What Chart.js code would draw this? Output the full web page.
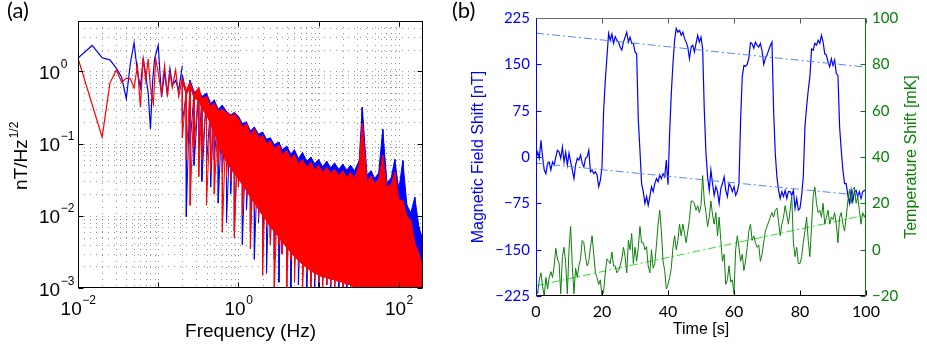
<!DOCTYPE html>
<html>
<head>
<meta charset="utf-8">
<script src="https://cdn.jsdelivr.net/npm/chart.js@4.4.1/dist/chart.umd.min.js"></script>
<style>
  html, body { margin: 0; padding: 0; background: #fff; }
  #wrap { position: relative; width: 927px; height: 348px; overflow: hidden; }
  canvas { position: absolute; top: 0; }
  #spectrum { left: 0; }
  #timeSeries { left: 440px; }
</style>
</head>
<body>
<div id="wrap">
  <canvas id="spectrum" width="440" height="348"></canvas>
  <canvas id="timeSeries" width="487" height="348"></canvas>
</div>
<script>
// ---------- panel (a): field noise spectra ----------
// sparse low-frequency part of each spectrum
const blueLowFreq = [0.01, 0.015, 0.02, 0.025, 0.03, 0.035, 0.04, 0.045, 0.05, 0.055, 0.06, 0.065, 0.07,
                     0.075, 0.08, 0.085, 0.09, 0.1, 0.11, 0.12, 0.13, 0.14, 0.15, 0.165, 0.18, 0.2];
const blueLowVal = [1.53, 2.29, 1.55, 1.45, 1.11, 0.83, 0.42, 1.3, 2.5, 1.0, 0.6, 1.5, 0.9,
                    0.5, 0.16, 0.7, 1.5, 2.3, 0.44, 0.98, 0.49, 1.1, 0.64, 0.75, 0.55, 1.2];
const redLowFreq = [0.01, 0.02, 0.025, 0.03, 0.035, 0.04, 0.045, 0.05, 0.055, 0.06, 0.065, 0.07, 0.075,
                    0.08, 0.087, 0.093, 0.1, 0.11, 0.12, 0.13, 0.14, 0.15, 0.165, 0.18, 0.2];
const redLowVal = [1.53, 0.123, 0.69, 1.05, 0.71, 0.81, 0.79, 0.59, 1.2, 0.32, 1.55, 0.75, 1.5,
                   0.6, 0.36, 1.5, 0.95, 0.5, 1.2, 0.45, 0.95, 0.6, 1.05, 0.45, 0.8];

// dense part: upper edge, lower edge of the solid band and the deepest dips
const hfFreq = [0.2, 0.224, 0.25, 0.28, 0.32, 0.35, 0.4, 0.45, 0.5, 0.56,
                0.63, 0.71, 0.8, 0.89, 1.0, 1.12, 1.26, 1.41, 1.58, 1.78,
                2.0, 2.24, 2.5, 2.8, 3.2, 3.5, 4.0, 4.5, 5.0, 5.6,
                6.3, 7.1, 8.0, 8.9, 10, 11.2, 12.6, 14.1, 15.8, 17.8,
                20, 22.4, 25, 28, 32, 35, 40, 45, 50, 56,
                63, 71, 80, 89, 100, 112, 126, 141, 158, 178,
                200];
const redTop = [0.80, 0.55, 0.70, 0.48, 0.60, 0.42, 0.45, 0.33, 0.36, 0.28,
                0.30, 0.27, 0.24, 0.26, 0.22, 0.17, 0.19, 0.13, 0.16, 0.12,
                0.13, 0.10, 0.11, 0.085, 0.095, 0.07, 0.08, 0.062, 0.07, 0.052,
                0.06, 0.047, 0.055, 0.043, 0.05, 0.04, 0.047, 0.038, 0.044, 0.036,
                0.042, 0.034, 0.04, 0.033, 0.05, 0.19, 0.03, 0.035, 0.028, 0.032,
                0.069, 0.025, 0.027, 0.04, 0.017, 0.016, 0.01, 0.0085, 0.0042, 0.003,
                0.0018];
const blueTop = [0.90, 0.50, 0.75, 0.52, 0.55, 0.45, 0.50, 0.36, 0.40, 0.30,
                 0.34, 0.28, 0.25, 0.27, 0.24, 0.19, 0.20, 0.15, 0.17, 0.135,
                 0.145, 0.115, 0.12, 0.097, 0.105, 0.082, 0.092, 0.072, 0.082, 0.062,
                 0.075, 0.057, 0.065, 0.053, 0.06, 0.048, 0.057, 0.046, 0.054, 0.044,
                 0.052, 0.043, 0.05, 0.042, 0.058, 0.32, 0.037, 0.042, 0.033, 0.039,
                 0.157, 0.029, 0.033, 0.06, 0.023, 0.058, 0.014, 0.011, 0.018, 0.007,
                 0.0045];
const bandFloor = [0.70, 0.46, 0.60, 0.42, 0.40, 0.30, 0.25, 0.18, 0.14, 0.10,
                   0.07, 0.055, 0.045, 0.038, 0.032, 0.027, 0.022, 0.018, 0.015, 0.012,
                   0.010, 0.0085, 0.007, 0.006, 0.005, 0.0043, 0.0036, 0.0031, 0.0027, 0.0024,
                   0.0021, 0.0019, 0.0017, 0.0016, 0.0015, 0.0014, 0.0014, 0.0013, 0.0013, 0.0012,
                   0.0012, 0.0011, 0.0011, 0.001, 0.001, 0.001, 0.001, 0.001, 0.001, 0.001,
                   0.001, 0.001, 0.001, 0.001, 0.001, 0.001, 0.001, 0.001, 0.001, 0.001,
                   0.001];
const redDip = [0.12, 0.06, 0.014, 0.09, 0.035, 0.06, 0.014, 0.04, 0.02, 0.05,
                0.006, 0.035, 0.03, 0.005, 0.025, 0.01, 0.018, 0.0035, 0.012, 0.009,
                0.0015, 0.007, 0.004, 0.0009, 0.004, 0.003, 0.0009, 0.0025, 0.0012, 0.002,
                0.0009, 0.0016, 0.0009, 0.0013, 0.0012, 0.0009, 0.0011, 0.0011, 0.0009, 0.0012,
                0.0009, 0.0012, 0.0009, 0.0009, 0.0009, 0.0009, 0.0009, 0.0009, 0.0009, 0.0009,
                0.0009, 0.0009, 0.0009, 0.0009, 0.0009, 0.0009, 0.0009, 0.0009, 0.0009, 0.0009,
                0.0009];
const blueDip = [0.2, 0.0097, 0.10, 0.05, 0.08, 0.03, 0.05, 0.025, 0.06, 0.015,
                 0.04, 0.008, 0.02, 0.0063, 0.03, 0.004, 0.012, 0.006, 0.0025, 0.008,
                 0.004, 0.0016, 0.005, 0.0025, 0.0012, 0.003, 0.0018, 0.0009, 0.002, 0.0011,
                 0.0014, 0.0009, 0.0012, 0.0009, 0.0009, 0.0013, 0.0011, 0.0009, 0.0009, 0.0009,
                 0.0009, 0.0009, 0.0009, 0.0009, 0.0009, 0.0009, 0.0009, 0.0009, 0.0009, 0.0009,
                 0.0009, 0.0009, 0.0009, 0.0009, 0.0009, 0.0009, 0.0009, 0.0009, 0.0009, 0.0009,
                 0.0009];

const freqDecades = [-2, 0, 2];       // x tick labels 10^n
const psdDecades = [-3, -2, -1, 0];   // y tick labels 10^n

// ---------- panel (b): field and temperature vs time ----------
const timeStep = 0.5; // s between samples
const fieldShift = [
  -2, 8, -2, 27, 0, -21, -27, -10, -8, -21,
  -8, -13, 0, 11, 8, -2, 16, -8, 8, -13,
  6, -8, -21, -35, -13, -2, -5, 3, -10, -16,
  -2, 0, 11, -24, -21, -27, -24, -29, -48, -38,
  -16,
  76, 124, 162, 200, 189, 199, 184, 195, 189, 186,
  178, 173, 186, 194, 202, 186, 194, 184, 184, 170,
  167, 60, 11, -43, -56, -75, -64, -78, -64, -48,
  -56, -43, -35, -40, -29, -35, -27, -32, -5, -45,
  40, 103, 151, 189, 208, 202, 205, 197, 202, 192,
  186, 178, 159, 178, 181, 170, 184, 197, 186, 194,
  175, 76, 6, -32, -54, -21, -43, -62, -48, -56,
  -75, -51, -43, -32, -54, -64, -43, -48, -56, -48,
  -62, -56, -43, 60, 130, 148, 147, 150, 160, 185,
  183, 176, 186, 181, 178, 184, 172, 150, 159, 165,
  173, 180, 186, 76, 6, -32, -54, -67, -56, -64,
  -54, -67, -56, -56, -62, -54, -83, -67, -86, -83,
  -62, -32, 49, 81, 108, 130, 175, 173, 184, 181,
  189, 184, 197, 186, 167, 165, 154, 146, 159, 148,
  157, 135, 132, 49, 11, -21, -43, -43, -62, -75,
  -54, -72, -56, -54, -64, -56, -67, -56, -54, -56
];
const tempShift = [
  -16, -19, -13, -10, -16, -20, -12, -17, -12, -9.5,
  -12, -7, 0.6, -4, -6, -19, -3, 1, -6, -19,
  0, 10, -7, -19, -8, -12, -7, -4, 4, 3,
  -3, -7, -5, 1, 6, -2, -10, -12, -15, -13,
  -20,
  -18, -10, -4, -5, -6, -1, -7, -7, -10, -9,
  -7, -4, 1, -3, -10, 4, 0, 7, -6, 1,
  -5, 1, 10, 3, 3, 0, 1.3, -7, -10, 0,
  -8, -6, 2, 11, 17, 8, -5, -9, -17, -15,
  -12, -8, 1, 6, 0, 4, 11, 6, 11, 7,
  3, 8, 13, 21, 21, 20, 17, 19, 16, 19,
  32, 21, 16, 10, 14, 21, 15, 11, 16, 6,
  14, 4, -5, -2, -15, -13, -7, -14, -13, -19,
  0, 6, 1, -5, -2, -9, -5, 1, 8, 11,
  4, 6, 3, 1, 2, -5, -2, 3, 8, 10,
  12, 14, 16, 14, 17, 18, 12, 6, 11, 14,
  19, 15, 11, 17, 23, 3, -3, 1, -6, -6,
  -3, 3, 8, 14, 4, -3, 10, 23, 27, 20,
  16, 17, 14, 20, 11, 14, 17, 11, 14, 13,
  16, 11, 3, 14, 16, 11, 8, 14, 21, 26,
  20, 26, 27, 20, 23, 17, 11, 16, 14, 16
];
const fitTime = [0, 100];
const fieldHighFit = [200.5, 145.5];
const fieldLowFit = [-10, -63];
const tempFit = [-15.6, 15];

const timeTicks = [0, 20, 40, 60, 80, 100];
const fieldTicks = [-225, -150, -75, 0, 75, 150, 225];
const tempTicks = [-20, 0, 20, 40, 60, 80, 100];

// ---------- shared settings ----------
const BLUE = '#0000ff';
const RED = '#ff0000';
const GREEN = '#0a800a';
const LABEL_FONT = '"Liberation Sans", Arial, sans-serif';
const TICK_FONT = 'Lato, "Open Sans", sans-serif';

Chart.defaults.animation = false;
Chart.defaults.events = [];
Chart.defaults.elements.point.radius = 0;
Chart.defaults.elements.line.tension = 0;
Chart.defaults.plugins.legend.display = false;
Chart.defaults.plugins.tooltip.enabled = false;

const minus = v => String(v).replace('-', '\u2212');
const asTicks = list => scale => { scale.ticks = list.map(v => ({ value: v })); };

function hline(ctx, x1, x2, y) { ctx.beginPath(); ctx.moveTo(x1, y); ctx.lineTo(x2, y); ctx.stroke(); }
function vline(ctx, x, y1, y2) { ctx.beginPath(); ctx.moveTo(x, y1); ctx.lineTo(x, y2); ctx.stroke(); }

// ---------- panel (a) ----------
function lowLine(freq, vals, color, order) {
  return { data: freq.map((f, i) => ({ x: f, y: vals[i] })), borderColor: color,
           borderWidth: 1.2, fill: false, order: order };
}
function band(top, dip, color, order) {
  return [
    { data: hfFreq.map((f, i) => ({ x: f, y: top[i] })), borderColor: color,
      backgroundColor: color, borderWidth: 1, fill: '+1', order: order },
    { data: hfFreq.map((f, i) => ({ x: f, y: bandFloor[i] })), borderColor: 'rgba(0,0,0,0)',
      borderWidth: 0, fill: false, order: order },
    { data: hfFreq.flatMap((f, i) => [{ x: f, y: top[i] }, { x: f, y: dip[i] }]),
      borderColor: color, borderWidth: 1, fill: false, order: order }
  ];
}

function drawPower(ctx, exp, x, y, centered) {
  ctx.font = '19px ' + LABEL_FONT;
  const wb = ctx.measureText('10').width;
  ctx.font = '12px ' + LABEL_FONT;
  const ws = ctx.measureText(minus(exp)).width;
  const x0 = centered ? x - (wb + ws) / 2 : x;
  ctx.font = '19px ' + LABEL_FONT;
  ctx.fillText('10', x0, y);
  ctx.font = '12px ' + LABEL_FONT;
  ctx.fillText(minus(exp), x0 + wb + 0.5, y - 11);
}

const gridSteps = [1, 2, 3, 4, 5, 6, 7, 8, 9];

const spectrumFrame = {
  id: 'spectrumFrame',
  beforeDatasetsDraw(chart) {
    const { ctx, chartArea: a, scales: { x, y } } = chart;
    ctx.save();
    ctx.strokeStyle = 'rgba(0,0,0,0.42)';
    ctx.lineWidth = 1;
    ctx.setLineDash([1, 5]);
    [-2, -1, 0, 1, 2].forEach(d => gridSteps.forEach(k => {
      const v = k * Math.pow(10, d);
      if (v <= 0.01 || v >= 200) return;
      vline(ctx, Math.round(x.getPixelForValue(v)) + 0.5, a.top, a.bottom);
    }));
    [-3, -2, -1, 0].forEach(d => gridSteps.forEach(k => {
      const v = k * Math.pow(10, d);
      if (v <= 0.001 || v >= 5) return;
      hline(ctx, a.left, a.right, Math.round(y.getPixelForValue(v)) + 0.5);
    }));
    ctx.restore();
  },
  afterDatasetsDraw(chart) {
    const { ctx, chartArea: a, scales: { x, y } } = chart;
    const L = Math.round(a.left) + 0.5, R = Math.round(a.right) - 0.5;
    const T = Math.round(a.top) + 0.5, B = Math.round(a.bottom) - 0.5;
    ctx.save();
    ctx.strokeStyle = '#000';
    ctx.lineWidth = 1;
    freqDecades.concat([-1, 1]).forEach(d => {
      const px = Math.round(x.getPixelForValue(Math.pow(10, d))) + 0.5;
      vline(ctx, px, B, B - 5); vline(ctx, px, T, T + 5);
    });
    psdDecades.forEach(d => {
      const py = Math.round(y.getPixelForValue(Math.pow(10, d))) + 0.5;
      hline(ctx, L, L + 5, py); hline(ctx, R, R - 5, py);
    });
    ctx.strokeRect(L, T, R - L, B - T);

    ctx.fillStyle = '#000';
    ctx.textBaseline = 'alphabetic';
    ctx.textAlign = 'left';
    freqDecades.forEach(d => drawPower(ctx, d, x.getPixelForValue(Math.pow(10, d)), a.bottom + 27, true));
    psdDecades.forEach(d => drawPower(ctx, d, 39, y.getPixelForValue(Math.pow(10, d)) + 7.5, false));

    ctx.font = '19px ' + LABEL_FONT;
    ctx.textAlign = 'center';
    ctx.textBaseline = 'middle';
    ctx.fillText('Frequency (Hz)', (a.left + a.right) / 2, 332);

    ctx.save();
    ctx.translate(27, 190);
    ctx.rotate(-Math.PI / 2);
    ctx.textAlign = 'left';
    ctx.textBaseline = 'alphabetic';
    ctx.font = '19px ' + LABEL_FONT;
    ctx.fillText('nT/Hz', 0, 0);
    const w = ctx.measureText('nT/Hz').width;
    ctx.font = '12px ' + LABEL_FONT;
    ctx.fillText('1/2', w + 1, -9);
    ctx.restore();

    ctx.font = '22px ' + TICK_FONT;
    ctx.textAlign = 'left';
    ctx.textBaseline = 'alphabetic';
    ctx.fillText('(a)', 7, 18);
    ctx.restore();
  }
};

new Chart(document.getElementById('spectrum'), {
  type: 'line',
  data: {
    datasets: [
      lowLine(redLowFreq, redLowVal, RED, 1),
      ...band(redTop, redDip, RED, 1),
      lowLine(blueLowFreq, blueLowVal, BLUE, 2),
      ...band(blueTop, blueDip, BLUE, 2)
    ]
  },
  options: {
    responsive: false,
    layout: { padding: { top: 21, right: 17, left: 0, bottom: 0 } },
    scales: {
      x: {
        type: 'logarithmic', min: 0.01, max: 200,
        ticks: { display: false }, grid: { display: false }, border: { display: false },
        afterFit: s => { s.height = 60; }
      },
      y: {
        type: 'logarithmic', min: 0.001, max: 5,
        ticks: { display: false }, grid: { display: false }, border: { display: false },
        afterFit: s => { s.width = 78; }
      }
    }
  },
  plugins: [spectrumFrame]
});

// ---------- panel (b) ----------
const timeFrame = {
  id: 'timeFrame',
  afterDatasetsDraw(chart) {
    const { ctx, chartArea: a, scales: { x, y, y1 } } = chart;
    const L = Math.round(a.left) + 0.5, R = Math.round(a.right) - 0.5;
    const T = Math.round(a.top) + 0.5, B = Math.round(a.bottom) - 0.5;
    ctx.save();
    ctx.lineWidth = 1;
    timeTicks.forEach(v => {
      const px = Math.round(x.getPixelForValue(v)) + 0.5;
      ctx.strokeStyle = '#000'; vline(ctx, px, B, B - 5);
      ctx.strokeStyle = '#555'; vline(ctx, px, T, T + 5);
    });
    ctx.strokeStyle = BLUE;
    fieldTicks.forEach(v => hline(ctx, L, L + 5, Math.round(y.getPixelForValue(v)) + 0.5));
    ctx.strokeStyle = GREEN;
    tempTicks.forEach(v => hline(ctx, R, R - 5, Math.round(y1.getPixelForValue(v)) + 0.5));
    ctx.strokeStyle = '#6e6e6e'; hline(ctx, L, R, T);
    ctx.strokeStyle = '#000'; hline(ctx, L, R, B);
    ctx.strokeStyle = BLUE; vline(ctx, L, T, B);
    ctx.strokeStyle = GREEN; vline(ctx, R, T, B);

    ctx.font = '16px ' + LABEL_FONT;
    ctx.textAlign = 'center';
    ctx.textBaseline = 'middle';
    ctx.fillStyle = '#000';
    ctx.fillText('Time [s]', (a.left + a.right) / 2, 330);

    const midY = (a.top + a.bottom) / 2;
    ctx.save();
    ctx.translate(38.5, midY);
    ctx.rotate(-Math.PI / 2);
    ctx.fillStyle = BLUE;
    ctx.fillText('Magnetic Field Shift [nT]', 0, 0);
    ctx.restore();
    ctx.save();
    ctx.translate(471.5, midY);
    ctx.rotate(-Math.PI / 2);
    ctx.fillStyle = GREEN;
    ctx.fillText('Temperature Shift [mK]', 0, 0);
    ctx.restore();

    ctx.font = '22px ' + TICK_FONT;
    ctx.textAlign = 'left';
    ctx.textBaseline = 'alphabetic';
    ctx.fillStyle = '#000';
    ctx.fillText('(b)', 12, 18);
    ctx.restore();
  }
};

new Chart(document.getElementById('timeSeries'), {
  type: 'line',
  data: {
    datasets: [
      { data: tempShift.map((v, i) => ({ x: i * timeStep, y: v })), yAxisID: 'y1',
        borderColor: GREEN, borderWidth: 1, order: 1 },
      { data: fitTime.map((t, i) => ({ x: t, y: tempFit[i] })), yAxisID: 'y1',
        borderColor: '#2fe02f', borderWidth: 1, borderDash: [8, 3, 2, 3], order: 2 },
      { data: fitTime.map((t, i) => ({ x: t, y: fieldHighFit[i] })), yAxisID: 'y',
        borderColor: '#5c85ff', borderWidth: 1, borderDash: [8, 3, 2, 3], order: 2 },
      { data: fitTime.map((t, i) => ({ x: t, y: fieldLowFit[i] })), yAxisID: 'y',
        borderColor: '#5c85ff', borderWidth: 1, borderDash: [8, 3, 2, 3], order: 2 },
      { data: fieldShift.map((v, i) => ({ x: i * timeStep, y: v })), yAxisID: 'y',
        borderColor: BLUE, borderWidth: 1.2, order: 3 }
    ]
  },
  options: {
    responsive: false,
    layout: { padding: { top: 18, right: 0, left: 0, bottom: 0 } },
    scales: {
      x: {
        type: 'linear', min: 0, max: 100,
        afterBuildTicks: asTicks(timeTicks),
        ticks: { color: '#000', font: { family: TICK_FONT, size: 16 }, padding: 6,
                 maxRotation: 0, autoSkip: false },
        grid: { display: false, drawTicks: false }, border: { display: false },
        afterFit: s => { s.height = 52; }
      },
      y: {
        position: 'left', min: -225, max: 225,
        afterBuildTicks: asTicks(fieldTicks),
        ticks: { color: BLUE, font: { family: TICK_FONT, size: 15 }, padding: 6,
                 callback: v => minus(v) },
        grid: { display: false, drawTicks: false }, border: { display: false },
        afterFit: s => { s.width = 96; }
      },
      y1: {
        position: 'right', min: -20, max: 100,
        afterBuildTicks: asTicks(tempTicks),
        ticks: { color: GREEN, font: { family: TICK_FONT, size: 15 }, padding: 6,
                 callback: v => minus(v) },
        grid: { display: false, drawTicks: false }, border: { display: false },
        afterFit: s => { s.width = 61; }
      }
    }
  },
  plugins: [timeFrame]
});
</script>
</body>
</html>
